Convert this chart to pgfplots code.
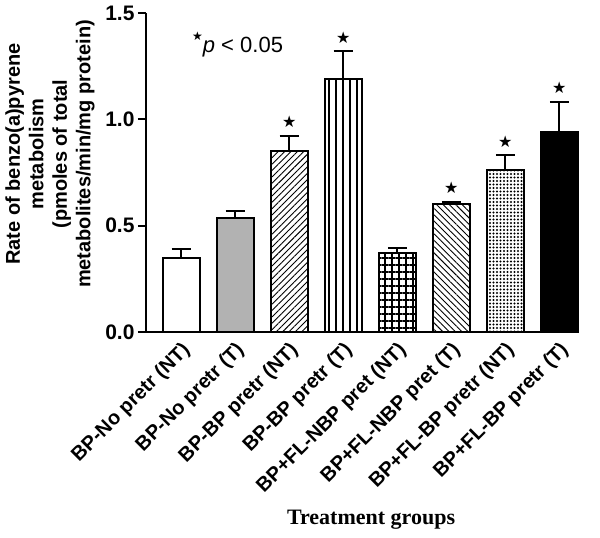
\documentclass[border=0pt]{standalone}
\usepackage{fontspec}
\setmainfont{Liberation Sans}
\newfontfamily\serifbold{Liberation Serif}
\newfontfamily\symfont{DejaVu Sans}
\usepackage{pgfplots}
\pgfplotsset{compat=1.18}
\usetikzlibrary{patterns.meta}

\pgfplotsset{
  mybar/.style={ybar, bar width=37pt, bar shift=0pt, draw=black, line width=2pt,
    error bars/y dir=plus, error bars/y explicit,
    error bars/error bar style={line width=2pt, black},
    error bars/error mark options={rotate=90, black, line width=2pt, mark size=9.5pt}},
}

\begin{document}
\begin{tikzpicture}
\begin{axis}[
  name=ax,
  scale only axis, width=432pt, height=319pt,
  xmin=-0.65, xmax=7.345, ymin=0, ymax=1.5,
  axis lines=left, axis line style={-, line width=2pt},
  clip=false,
  xtick={0,1,2,3,4,5,6,7},
  xticklabels={BP-No pretr (NT), BP-No pretr (T), BP-BP pretr (NT), BP-BP pretr (T), BP+FL-NBP pret (NT), BP+FL-NBP pret (T), BP+FL-BP pretr (NT), BP+FL-BP pretr (T)},
  x tick style={draw=none},
  ytick={0,0.5,1,1.5},
  y tick style={line width=2pt, black},
  major tick length=8pt,
  tick align=outside,
  /pgf/number format/assume math mode=true,
  yticklabel style={/pgf/number format/.cd, fixed, fixed zerofill, precision=1, /tikz/.cd, font=\fontsize{21}{21}\selectfont\bfseries},
  xticklabel style={font=\fontsize{20}{20}\selectfont\bfseries, inner sep=0pt, xshift=6pt, yshift=-7pt, rotate=45, anchor=east},
  ylabel={Rate of benzo(a)pyrene\\metabolism\\(pmoles of total\\metabolites/min/mg protein)},
  ylabel style={align=center, font=\fontsize{20}{23.5}\selectfont\bfseries, at={(axis description cs:-0.222,0.558)}, anchor=center},
  xlabel={Treatment groups},
  xlabel style={font=\serifbold\fontsize{22}{22}\selectfont\bfseries, at={(axis description cs:0.521,-0.602)}, anchor=base},
]
\addplot[mybar, fill=white] coordinates {(0,0.35) +- (0,0.04)};
\addplot[mybar, fill=gray!60!white] coordinates {(1,0.535) +- (0,0.035)};
\addplot[mybar, pattern={Lines[angle=45,distance=4.5pt,line width=0.9pt]}] coordinates {(2,0.85) +- (0,0.07)};
\addplot[mybar, pattern={Lines[angle=90,distance=7pt,line width=1.4pt]}] coordinates {(3,1.19) +- (0,0.13)};
\addplot[mybar, pattern={Hatch[angle=0,distance=7pt,line width=1.5pt]}] coordinates {(4,0.37) +- (0,0.025)};
\addplot[mybar, pattern={Lines[angle=-45,distance=4.5pt,line width=0.9pt]}] coordinates {(5,0.60) +- (0,0.012)};
\addplot[mybar, pattern={Dots[distance=3.5pt,radius=1.15pt]}] coordinates {(6,0.76) +- (0,0.07)};
\addplot[mybar, fill=black] coordinates {(7,0.94) +- (0,0.14)};
\addplot[draw=none, mark=none, nodes near coords={\symfont ★},
  every node near coord/.style={anchor=center, inner sep=0pt, font=\fontsize{16}{16}\selectfont}]
  coordinates {(2,0.99) (3,1.385) (5,0.68) (6,0.895) (7,1.15)};
\node[anchor=base west, inner sep=0pt, font=\fontsize{22}{22}\selectfont] at (axis cs:0.2,1.316)
  {\raisebox{12pt}{\symfont\fontsize{12}{12}\selectfont ★}\textit{p} < 0.05};
\end{axis}
\pgfresetboundingbox
\path ([shift={(-146pt,-206pt)}]ax.south west) rectangle ([shift={(22pt,13pt)}]ax.north east);
\end{tikzpicture}
\end{document}
